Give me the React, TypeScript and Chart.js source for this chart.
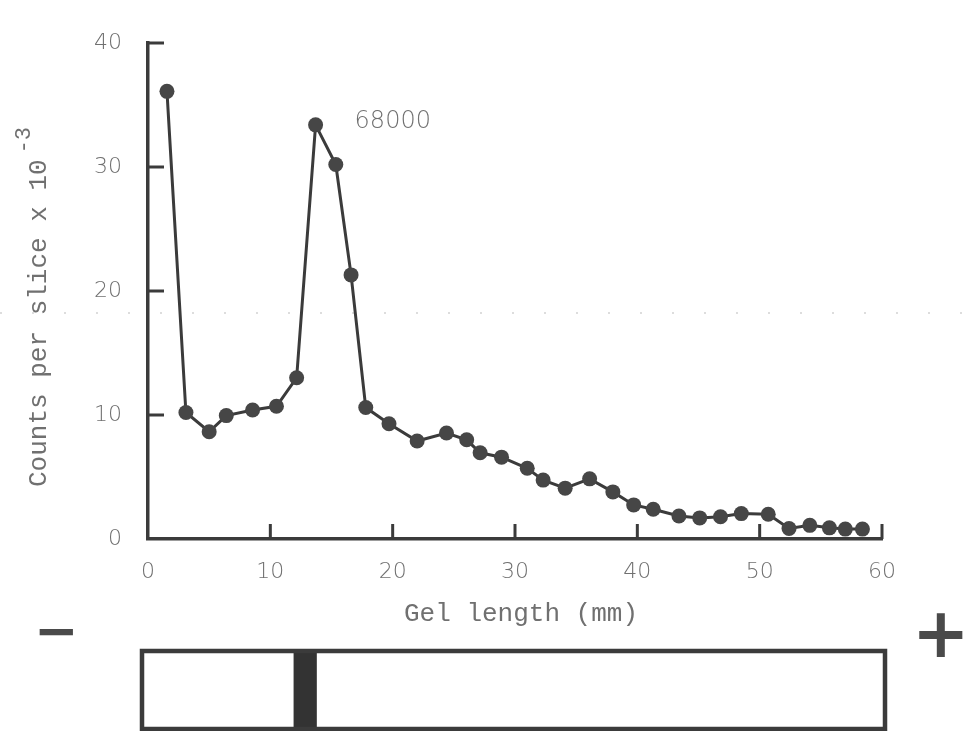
import { useEffect, useRef } from "react";
import { Chart, registerables } from "chart.js";

Chart.register(...registerables);

// Gel slice positions (mm from the origin) and counts per slice (x 10^-3)
const sliceMm = [
  1.55, 3.1, 5.0, 6.4, 8.55, 10.5, 12.15, 13.7, 15.35, 16.6, 17.8, 19.7,
  22.0, 24.4, 26.05, 27.15, 28.9, 31.0, 32.3, 34.1, 36.1, 38.0, 39.7, 41.3,
  43.4, 45.1, 46.8, 48.5, 50.7, 52.4, 54.1, 55.7, 57.0, 58.4,
];
const countsK = [
  36.1, 10.2, 8.65, 9.95, 10.4, 10.7, 13.0, 33.4, 30.2, 21.3, 10.6, 9.3,
  7.9, 8.55, 8.0, 6.95, 6.6, 5.7, 4.75, 4.1, 4.85, 3.8, 2.75, 2.4,
  1.85, 1.7, 1.8, 2.05, 2.0, 0.85, 1.1, 0.9, 0.8, 0.8,
];

const xTicks = [0, 10, 20, 30, 40, 50, 60];
const yTicks = [0, 10, 20, 30, 40];

const peakLabel = "68000";
const peakIndex = 7;
const xTitle = "Gel length (mm)";
const yTitle = "Counts per slice x 10";
const yTitleExp = "-3";
const gelBandMm = [11.9, 13.8];
const cathodeSign = "\u2212";
const anodeSign = "+";

const INK = "#3b3b3b";
const TEXT = "#707070";
const MONO = "'Liberation Mono', 'DejaVu Sans Mono', monospace";
const SANS = "'DejaVu Sans', sans-serif";

function drawGlyph(
  ctx: CanvasRenderingContext2D,
  ch: string,
  cx: number,
  cy: number,
  inkW: number
) {
  ctx.font = `bold 100px ${SANS}`;
  const m = ctx.measureText(ch);
  const w = m.actualBoundingBoxLeft + m.actualBoundingBoxRight;
  const size = (100 * inkW) / w;
  ctx.font = `bold ${size}px ${SANS}`;
  ctx.textAlign = "left";
  ctx.textBaseline = "alphabetic";
  const m2 = ctx.measureText(ch);
  const x = cx - (m2.actualBoundingBoxRight - m2.actualBoundingBoxLeft) / 2;
  const y = cy + (m2.actualBoundingBoxAscent - m2.actualBoundingBoxDescent) / 2;
  ctx.fillText(ch, x, y);
}

const decorPlugin = {
  id: "decor",
  beforeDraw(chart: any) {
    // faint dotted line running across the sheet
    const { ctx, width } = chart;
    ctx.save();
    ctx.strokeStyle = "rgba(0,0,0,0.18)";
    ctx.lineWidth = 1.5;
    ctx.setLineDash([2, 30]);
    ctx.beginPath();
    ctx.moveTo(0, 313);
    ctx.lineTo(width, 313);
    ctx.stroke();
    ctx.restore();
  },
  afterDraw(chart: any) {
    const { ctx, chartArea, scales } = chart;
    const xs = scales.x;
    const ys = scales.y;
    ctx.save();

    // inward tick marks
    ctx.strokeStyle = INK;
    ctx.lineWidth = 3;
    ctx.lineCap = "butt";
    for (const v of yTicks) {
      if (v === 0) continue;
      const py = ys.getPixelForValue(v);
      ctx.beginPath();
      ctx.moveTo(chartArea.left, py);
      ctx.lineTo(chartArea.left + 16, py);
      ctx.stroke();
    }
    for (const v of xTicks) {
      if (v === 0) continue;
      const px = xs.getPixelForValue(v);
      ctx.beginPath();
      ctx.moveTo(px, chartArea.bottom);
      ctx.lineTo(px, chartArea.bottom - 15);
      ctx.stroke();
    }

    // peak annotation
    ctx.fillStyle = TEXT;
    ctx.font = `300 24px ${SANS}`;
    ctx.textAlign = "left";
    ctx.textBaseline = "alphabetic";
    ctx.fillText(
      peakLabel,
      xs.getPixelForValue(sliceMm[peakIndex]) + 39,
      ys.getPixelForValue(countsK[peakIndex]) + 3
    );

    // axis titles
    ctx.font = `26px ${MONO}`;
    ctx.textAlign = "center";
    ctx.textBaseline = "middle";
    ctx.fillText(xTitle, (chartArea.left + chartArea.right) / 2 + 6, 614);

    ctx.save();
    ctx.translate(39, 487);
    ctx.rotate(-Math.PI / 2);
    ctx.textAlign = "left";
    ctx.textBaseline = "middle";
    ctx.font = `26px ${MONO}`;
    ctx.fillText(yTitle, 0, 0);
    const tw = ctx.measureText(yTitle).width;
    ctx.font = `22px ${MONO}`;
    ctx.fillText(yTitleExp, tw + 6, -15);
    ctx.restore();

    // gel rod with the stained band
    const gelTop = 651;
    const gelBottom = 729;
    const gelLeft = chartArea.left - 6;
    const gelRight = chartArea.right + 3;
    const b0 = xs.getPixelForValue(gelBandMm[0]);
    const b1 = xs.getPixelForValue(gelBandMm[1]);
    ctx.fillStyle = "#333";
    ctx.fillRect(b0, gelTop, b1 - b0, gelBottom - gelTop);
    ctx.strokeStyle = INK;
    ctx.lineWidth = 4.5;
    ctx.strokeRect(gelLeft, gelTop, gelRight - gelLeft, gelBottom - gelTop);

    // electrode polarity
    ctx.fillStyle = "#4a4a4a";
    drawGlyph(ctx, cathodeSign, 56, 632, 34);
    drawGlyph(ctx, anodeSign, 941, 634.5, 44);

    ctx.restore();
  },
};

export default function App() {
  const ref = useRef<HTMLCanvasElement>(null);

  useEffect(() => {
    const canvas = ref.current;
    if (!canvas) return;
    const points = sliceMm.map((x, i) => ({ x, y: countsK[i] }));
    const tickFont = { family: SANS, size: 22, weight: 300 as any };

    const chart = new Chart(canvas, {
      type: "line",
      data: {
        datasets: [
          {
            data: points,
            borderColor: INK,
            borderWidth: 3,
            pointRadius: 7.5,
            pointBackgroundColor: "#464646",
            pointBorderWidth: 0,
            tension: 0,
          },
        ],
      },
      options: {
        animation: false,
        responsive: false,
        maintainAspectRatio: false,
        layout: { padding: { left: 0, top: 43, right: 82, bottom: 152 } },
        plugins: {
          legend: { display: false },
          tooltip: { enabled: false },
        },
        scales: {
          x: {
            type: "linear",
            min: 0,
            max: 60,
            afterBuildTicks: (s: any) => {
              s.ticks = xTicks.map((value) => ({ value }));
            },
            afterFit: (s: any) => {
              s.height = 40;
            },
            grid: { display: false, drawTicks: false },
            border: { display: true, width: 3.5, color: INK },
            ticks: {
              font: tickFont,
              color: TEXT,
              padding: 20,
              maxRotation: 0,
              autoSkip: false,
            },
          },
          y: {
            type: "linear",
            min: 0,
            max: 40,
            afterBuildTicks: (s: any) => {
              s.ticks = yTicks.map((value) => ({ value }));
            },
            afterFit: (s: any) => {
              s.width = 148;
            },
            grid: { display: false, drawTicks: false },
            border: { display: true, width: 3.5, color: INK },
            ticks: {
              font: tickFont,
              color: TEXT,
              padding: 26,
              autoSkip: false,
            },
          },
        },
      },
      plugins: [decorPlugin],
    });

    return () => chart.destroy();
  }, []);

  return (
    <div
      style={{
        position: "absolute",
        left: 0,
        top: 0,
        width: 964,
        height: 731,
        background: "#fff",
        overflow: "hidden",
      }}
    >
      <canvas
        ref={ref}
        width={964}
        height={731}
        style={{ display: "block", width: 964, height: 731 }}
      />
    </div>
  );
}
